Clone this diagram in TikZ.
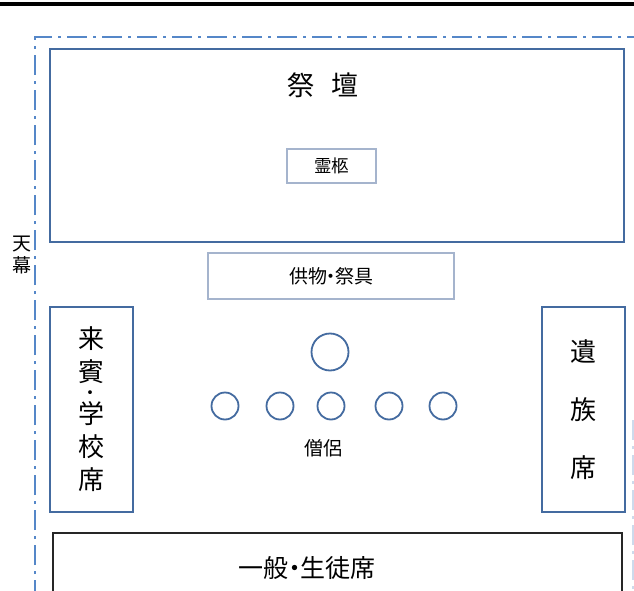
\documentclass[tikz,border=0pt]{standalone}
\usepackage{fontspec}
\setmainfont{Noto Sans CJK JP}
\definecolor{boxblue}{RGB}{68,107,160}
\definecolor{lightbox}{RGB}{165,180,205}
\definecolor{dashblue}{RGB}{85,135,200}
\definecolor{faintblue}{RGB}{205,218,236}
\tikzset{
  bluebox/.style={draw=boxblue, line width=1.6pt, inner sep=0pt},
  thinbox/.style={draw=lightbox, line width=1.1pt, inner sep=0pt},
  seat/.style={circle, draw=boxblue, line width=1.8pt, inner sep=0pt},
  curtain/.style={draw=dashblue, line width=2.8pt, dash pattern=on 20pt off 6pt on 3pt off 6pt},
  lbl/.style={inner sep=0pt, text=black}
}
\newcommand{\smalldot}{\kern-2pt\raisebox{3pt}{\fontsize{18}{18}\selectfont ・}}
\begin{document}
\begin{tikzpicture}[x=1pt,y=-1pt]
\useasboundingbox (0,0) rectangle (634,591);
\clip (0,0) rectangle (634,591);
\fill[white] (0,0) rectangle (634,591);
% top black rule
\coordinate (rl) at (0,4);
\coordinate (rr) at (634,4);
\draw[line width=4pt, black] (rl) -- (rr);
% curtain (dash-dot border)
\coordinate (cbl) at (35,600);
\coordinate (ctl) at (35,37);
\coordinate (ctr) at (640,37);
\draw[curtain] (cbl) -- (ctl) -- (ctr);
\coordinate (fr1) at (633,420);
\coordinate (fr2) at (633,600);
\draw[curtain, draw=faintblue, line width=2pt] (fr1) -- (fr2);
\node[lbl, font=\fontsize{19}{22}\selectfont, align=center] (tenmaku) at (22,255) {天\\幕};
% altar
\node[bluebox, minimum width=574pt, minimum height=193pt] (saidan) at (337,145.5) {};
\node[lbl, font=\fontsize{27}{30}\selectfont] (saidanlbl) at (323,85) {祭\hspace{17pt}壇};
\node[thinbox, minimum width=89pt, minimum height=34pt, font=\fontsize{17.5}{20}\selectfont] (reikyu) at (331.5,166) {霊柩};
% offerings
\node[thinbox, minimum width=246pt, minimum height=46pt, font=\fontsize{19}{22}\selectfont] (kumotsu) at (331,276) {供物\kern-5.5pt・\kern-5.5pt祭具};
% guests
\node[bluebox, minimum width=83pt, minimum height=205pt, align=center, font=\fontsize{26}{33}\selectfont] (raihin) at (91.5,409.5) {来\\賓\\[-12pt]\smalldot\\[-12pt]学\\校\\席};
% family
\node[bluebox, minimum width=83pt, minimum height=205pt, align=center, font=\fontsize{26}{58}\selectfont] (izoku) at (583.5,409.5) {遺\\族\\席};
% monks
\node[seat, minimum size=37pt] (m0) at (330,352) {};
\node[seat, minimum size=27pt] (m1) at (225,406) {};
\node[seat, minimum size=27pt] (m2) at (280,406) {};
\node[seat, minimum size=27pt] (m3) at (331,406) {};
\node[seat, minimum size=27pt] (m4) at (389,406) {};
\node[seat, minimum size=27pt] (m5) at (443,406) {};
\node[lbl, font=\fontsize{19}{22}\selectfont] (soryo) at (323,448) {僧侶};
% general seats
\coordinate (g1) at (53,600);
\coordinate (g2) at (53,533);
\coordinate (g3) at (622,533);
\coordinate (g4) at (622,600);
\draw[line width=2pt, black!85] (g1) -- (g2) -- (g3) -- (g4);
\node[lbl, font=\fontsize{25}{28}\selectfont] (ippan) at (307,568) {一般\kern-6.5pt・\kern-6.5pt生徒席};
\end{tikzpicture}
\end{document}
